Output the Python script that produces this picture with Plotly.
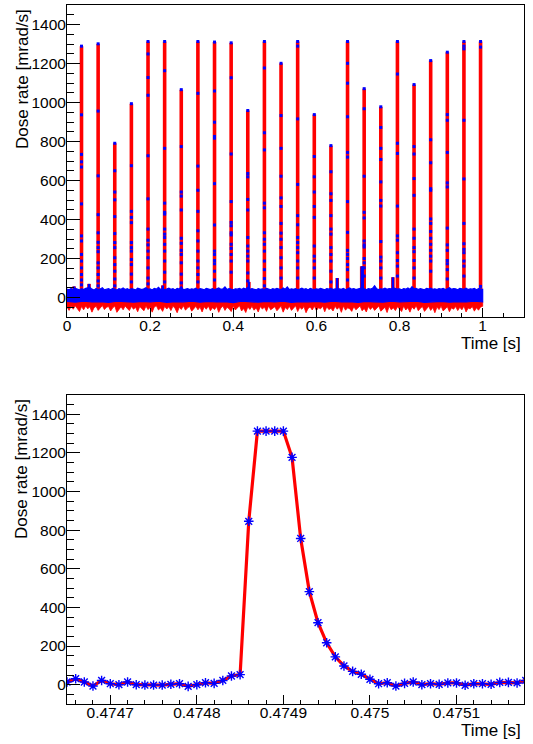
import plotly.graph_objects as go

# ---------------- data: overview (1 s of beam) ----------------
pulse_time = [0.0349, 0.0749, 0.1149, 0.1549, 0.1949, 0.2349, 0.2749, 0.3149,
              0.3549, 0.3949, 0.4349, 0.4749, 0.5149, 0.5549, 0.5949, 0.6349,
              0.6749, 0.7149, 0.7549, 0.7949, 0.8349, 0.8749, 0.9149, 0.9549, 0.9949]
pulse_samples = [
    [1289, 937, 734, 696, 669, 480, 316, 290, 221, 187, 152, 118, 90, 65],
    [1301, 956, 624, 425, 332, 283, 256, 235, 178, 152, 118, 85, 60],
    [791, 650, 541, 501, 415, 328, 282, 256, 204, 169, 135, 95, 60],
    [994, 676, 442, 411, 384, 282, 256, 238, 195, 169, 120, 80],
    [1313, 1249, 1128, 1037, 727, 506, 351, 294, 270, 238, 204, 152, 100, 70],
    [1313, 1163, 765, 484, 437, 428, 351, 325, 308, 273, 238, 187, 130, 80],
    [1066, 774, 541, 520, 449, 304, 278, 242, 221, 178, 120, 75],
    [1313, 1047, 674, 550, 442, 342, 290, 238, 187, 152, 118, 80],
    [1310, 1059, 899, 826, 817, 584, 372, 238, 221, 190, 173, 135, 90],
    [1306, 1127, 736, 492, 385, 368, 332, 321, 273, 252, 221, 187, 130],
    [959, 636, 619, 503, 449, 308, 264, 238, 212, 187, 126, 85],
    [1313, 1177, 845, 757, 484, 460, 332, 299, 273, 238, 187, 143, 97, 60],
    [1201, 933, 765, 622, 511, 467, 380, 330, 299, 256, 204, 152, 100],
    [1313, 1289, 916, 580, 420, 373, 308, 282, 256, 230, 187, 152, 100],
    [938, 723, 619, 541, 467, 411, 264, 212, 187, 152, 100],
    [779, 645, 532, 498, 420, 351, 325, 256, 221, 187, 135, 80],
    [1313, 1201, 1099, 927, 744, 720, 492, 334, 242, 221, 200, 169, 143, 90],
    [1071, 968, 622, 437, 408, 290, 270, 259, 200, 178, 152, 110],
    [978, 872, 765, 708, 593, 498, 469, 287, 207, 187, 152, 100],
    [1313, 1146, 791, 739, 469, 316, 294, 230, 190, 161, 110],
    [1092, 774, 736, 610, 524, 351, 304, 256, 235, 190, 152, 100],
    [1215, 809, 691, 558, 550, 403, 380, 339, 304, 273, 242, 212, 187, 135],
    [1258, 938, 909, 744, 588, 567, 356, 270, 242, 190, 173, 143, 95],
    [1313, 1289, 1275, 909, 608, 380, 276, 247, 230, 187, 161, 110],
    [1313, 1284, 57],
]

# small isolated bumps on the baseline
bump_time = [0.017, 0.053, 0.2305, 0.4375, 0.65, 0.709, 0.7115, 0.784]
bump_peak = [57, 70, 62, 80, 100, 160, 160, 104]

# baseline noise, sampled every 5 ms (upper edge of the marker band, lowest dips of the line)
noise_t0 = 0.0
noise_dt = 0.005
noise_top = [44, 40, 46, 38, 47, 42, 39, 45, 41, 47,
             48, 52, 43, 38, 46, 41, 44, 50, 39, 43,
             45, 40, 47, 44, 38, 46, 42, 49, 41, 45,
             40, 46, 43, 39, 48, 44, 41, 45, 50, 42,
             44, 39, 47, 43, 52, 41, 46, 40, 44, 48,
             42, 45, 39, 47, 43, 56, 40, 44, 46, 41,
             45, 42, 48, 40, 46, 43, 39, 47, 44, 41,
             46, 40, 45, 49, 42, 44, 55, 41, 46, 43,
             40, 45, 43, 47, 41, 48, 44, 52, 42, 46,
             43, 39, 46, 42, 45, 41, 47, 44, 40, 45,
             42, 47, 44, 40, 49, 43, 54, 41, 45, 42,
             46, 40, 44, 48, 42, 45, 39, 47, 43, 41,
             45, 42, 47, 44, 40, 46, 43, 48, 41, 44,
             46, 45, 42, 47, 40, 44, 49, 43, 46, 41,
             44, 48, 50, 45, 40, 46, 43, 47, 60, 44,
             41, 45, 43, 48, 42, 46, 44, 50, 47, 43,
             45, 40, 46, 43, 49, 42, 56, 44, 47, 41,
             46, 43, 40, 47, 44, 48, 42, 45, 41, 46,
             43, 47, 41, 45, 50, 42, 46, 44, 40, 47,
             44, 42, 48, 41, 45, 43, 47, 40, 46, 44,
             42]
noise_dip = [-48, -66, -44, -60, -42, -57, -72, -46, -63, -43,
             -58, -47, -75, -52, -45, -66, -55, -41, -62, -50,
             -46, -69, -53, -44, -76, -58, -47, -63, -43, -56,
             -67, -45, -60, -50, -73, -46, -57, -68, -44, -62,
             -51, -75, -48, -42, -64, -54, -71, -45, -59, -47,
             -67, -44, -56, -78, -50, -61, -42, -65, -53, -46,
             -70, -57, -45, -63, -49, -74, -47, -60, -43, -68,
             -52, -62, -46, -76, -54, -44, -66, -50, -58, -72,
             -45, -64, -51, -42, -69, -56, -77, -48, -61, -45,
             -65, -53, -74, -46, -59, -49, -71, -43, -63, -55,
             -47, -68, -57, -44, -75, -51, -62, -45, -66, -54,
             -42, -72, -50, -60, -46, -78, -56, -48, -64, -44,
             -67, -52, -58, -43, -73, -47, -62, -55, -69, -45,
             -60, -49, -76, -44, -65, -53, -57, -71, -47, -63,
             -51, -43, -68, -56, -74, -46, -61, -48, -66, -54,
             -44, -70, -58, -50, -77, -45, -63, -53, -67, -47,
             -59, -72, -44, -64, -52, -75, -48, -60, -42, -68,
             -55, -46, -71, -57, -45, -66, -51, -78, -49, -62,
             -44, -69, -56, -47, -73, -53, -60, -46, -67, -50,
             -63, -43, -74, -54, -58, -46, -70, -52, -65, -48,
             -45]
# lower edge of the marker band, every 20 ms
band_t0 = 0.0
band_dt = 0.02
band_bottom = [-20, -24, -18, -23, -21, -25, -19, -22, -24, -20,
               -23, -18, -25, -21, -22, -19, -24, -20, -23, -21,
               -26, -19, -22, -24, -20, -23, -18, -25, -21, -22,
               -20, -24, -19, -23, -21, -25, -20, -22, -24, -19,
               -23, -21, -18, -25, -22, -20, -24, -21, -23, -19,
               -22]

# ---------------- data: zoom on one pulse (10 us sampling) ----------------
zoom_t0 = 0.47465
zoom_dt = 0.00001
zoom_rate = [14, 31, 14, -7, 22, 5, 0, 14, 0, -2,
             -2, -2, 2, 5, -9, 0, 10, 7, 22, 45,
             52, 846, 1313, 1313, 1313, 1313, 1177, 757, 482, 321,
             217, 144, 97, 69, 54, 28, 5, 10, -7, 7,
             14, 0, 5, 2, 9, 9, -3, 5, 5, 2,
             12, 12, 9, 22]

x_title = "Time [s]"
y_title = "Dose rate [mrad/s]"

RED = "#ff0000"
BLUE = "#0000ff"
FONT = "Liberation Sans"

noise_time = [noise_t0 + i * noise_dt for i in range(len(noise_top))]
band_time = [band_t0 + i * band_dt for i in range(len(band_bottom))]
zoom_time = [zoom_t0 + i * zoom_dt for i in range(len(zoom_rate))]

fig = go.Figure()

# red line dips below the baseline
fig.add_trace(go.Scatter(
    x=noise_time + band_time[::-1], y=noise_dip + band_bottom[::-1],
    mode="lines", fill="toself", fillcolor=RED,
    line=dict(color=RED, width=0.8), hoverinfo="skip",
    xaxis="x", yaxis="y", showlegend=False))

# red line of each pulse and bump (rise and fall are within one pixel column)
px, py = [], []
for t, s in zip(pulse_time, pulse_samples):
    px += [t, t, None]
    py += [0, max(s), None]
for t, h in zip(bump_time, bump_peak):
    px += [t, t, None]
    py += [0, h, None]
fig.add_trace(go.Scatter(x=px, y=py, mode="lines",
                         line=dict(color=RED, width=3.6), hoverinfo="skip",
                         xaxis="x", yaxis="y", showlegend=False))

# blue marker band of the baseline
fig.add_trace(go.Scatter(
    x=noise_time + band_time[::-1], y=noise_top + band_bottom[::-1],
    mode="lines", fill="toself", fillcolor=BLUE,
    line=dict(color=BLUE, width=1.2), hoverinfo="skip",
    xaxis="x", yaxis="y", showlegend=False))

# blue markers stacked on the bumps
bx, by = [], []
for t, h in zip(bump_time, bump_peak):
    bx += [t, t, None]
    by += [0, h, None]
fig.add_trace(go.Scatter(x=bx, y=by, mode="lines",
                         line=dict(color=BLUE, width=2.4), hoverinfo="skip",
                         xaxis="x", yaxis="y", showlegend=False))

# blue markers on the pulses
mx, my = [], []
for t, s in zip(pulse_time, pulse_samples):
    mx += [t] * len(s)
    my += s
fig.add_trace(go.Scatter(x=mx, y=my, mode="markers",
                         marker=dict(symbol="square", size=3, color=BLUE),
                         xaxis="x", yaxis="y", showlegend=False))

# bottom: zoom on a single pulse
fig.add_trace(go.Scatter(
    x=zoom_time, y=zoom_rate, mode="lines+markers",
    line=dict(color=RED, width=3.2),
    marker=dict(symbol="asterisk-open", size=8, color=BLUE,
                line=dict(color=BLUE, width=1.4)),
    xaxis="x2", yaxis="y2", showlegend=False))

tickfont = dict(family=FONT, size=15.5, color="black")
common = dict(showgrid=False, zeroline=False, showline=True, mirror=True,
              linecolor="black", linewidth=1, ticks="inside",
              tickcolor="black", tickwidth=1, tickfont=tickfont,
              automargin=False)

TOP_DOM = [0.5536, 1.0]
BOT_DOM = [0.0, 0.4421]

fig.update_layout(
    width=533, height=744,
    margin=dict(l=67, r=9, t=5, b=40, pad=0, autoexpand=False),
    paper_bgcolor="white", plot_bgcolor="white",
    showlegend=False,
    font=dict(family=FONT, color="black"),
    xaxis=dict(domain=[0, 1], anchor="y", range=[0, 1.0994],
               tick0=0, dtick=0.2, ticklen=9, ticklabelstandoff=-6,
               minor=dict(ticks="inside", dtick=0.05, ticklen=4.5,
                          tickcolor="black", showgrid=False),
               **common),
    yaxis=dict(domain=TOP_DOM, anchor="x", range=[-100, 1500],
               tick0=0, dtick=200, ticklen=13, ticklabelstandoff=-3,
               minor=dict(ticks="inside", dtick=50, ticklen=6.5,
                          tickcolor="black", showgrid=False),
               **common),
    xaxis2=dict(domain=[0, 1], anchor="y2", range=[0.47465, 0.475178],
                tick0=0.4747, dtick=0.0001, ticklen=9, tickformat="~g",
                ticklabelstandoff=-6,
                minor=dict(ticks="inside", dtick=0.00002, ticklen=4.5,
                           tickcolor="black", showgrid=False),
                **common),
    yaxis2=dict(domain=BOT_DOM, anchor="x2", range=[-100, 1500],
                tick0=0, dtick=200, ticklen=13, ticklabelstandoff=-3,
                minor=dict(ticks="inside", dtick=50, ticklen=6.5,
                           tickcolor="black", showgrid=False),
                **common),
)

titlefont = dict(family=FONT, size=17, color="black")
for xa, ya in (("x", "y"), ("x2", "y2")):
    fig.add_annotation(text=x_title, xref=f"{xa} domain", yref=f"{ya} domain",
                       x=1, y=0, xanchor="right", yanchor="middle",
                       yshift=-26, xshift=-1, showarrow=False, font=titlefont)
    fig.add_annotation(text=y_title, xref=f"{xa} domain", yref=f"{ya} domain",
                       x=0, y=1, xanchor="center", yanchor="top",
                       xshift=-45, yshift=-2, textangle=-90, showarrow=False,
                       font=titlefont)

fig.write_html("out.html",
               config={"displayModeBar": False},
               post_script="document.body.style.margin='0';"
                           "document.body.style.overflow='hidden';")
